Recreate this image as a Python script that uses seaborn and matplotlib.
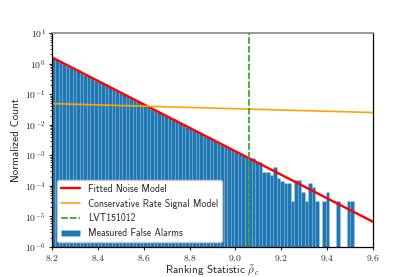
import matplotlib
matplotlib.use("Agg")
import matplotlib.pyplot as plt
import numpy as np
import pandas as pd
import seaborn as sns
from matplotlib.ticker import FuncFormatter, LogLocator, NullFormatter


# histogram of measured false alarms (normalized), fixed-width bins from BIN_START
BIN_START = 8.2
BIN_WIDTH = 0.0153
FALSE_ALARM_HEIGHTS = [
    1.48, 1.29, 1.13, 0.987, 0.862, 0.753, 0.658, 0.575, 0.502, 0.438,
    0.383, 0.334, 0.292, 0.255, 0.223, 0.195, 0.170, 0.149, 0.130, 0.113,
    0.0990, 0.0865, 0.0755, 0.0660, 0.0576, 0.0503, 0.0440, 0.0384, 0.0335, 0.0293,
    0.0256, 0.0224, 0.0195, 0.0171, 0.0149, 0.0130, 0.01137, 0.00993, 0.00867, 0.00757,
    0.00662, 0.00578, 0.00505, 0.00441, 0.00385, 0.00336, 0.00294, 0.00257, 0.00224, 0.00196,
    0.00171, 0.00149, 0.00131, 0.00114, 0.00100, 0.00087, 0.00080,
    8.0e-4, 5.9e-4, 5.9e-4, 2.8e-4, 2.8e-4, 2.2e-4, 4.0e-4, 1.85e-4, 1.5e-4,
    1.24e-4, 1.24e-4, 3.1e-5, 1.55e-4, 1.55e-4, 6.2e-5, 3.1e-5, 1.24e-4, 9.3e-5, 3.1e-5,
    0.0, 3.1e-5, 6.2e-5, 0.0, 0.0, 3.1e-5, 0.0, 0.0, 3.1e-5, 3.1e-5,
]

# fitted noise model and conservative signal model (straight lines on log axis)
NOISE_X = [8.2, 9.6]
NOISE_Y = [1.6, 6.7e-6]
SIGNAL_X = [8.2, 9.6]
SIGNAL_Y = [0.049, 0.025]

LVT_RANK = 9.06

X_LIM = (8.2, 9.6)
Y_LIM = (1e-6, 1e1)
X_TICKS = [8.2, 8.4, 8.6, 8.8, 9.0, 9.2, 9.4, 9.6]


def main() -> None:
    sns.set_style("ticks")
    plt.rcParams["font.family"] = ["cmss10", "DejaVu Sans"]
    plt.rcParams["mathtext.fontset"] = "cm"
    plt.rcParams["axes.unicode_minus"] = False
    plt.rcParams["font.size"] = 7

    fig, ax = plt.subplots(figsize=(4.15, 2.77), dpi=100)
    fig.subplots_adjust(left=0.125, right=0.899, bottom=0.108, top=0.881)

    n_bins = len(FALSE_ALARM_HEIGHTS)
    edges = BIN_START + BIN_WIDTH * np.arange(n_bins + 1)
    hist_df = pd.DataFrame({
        "rank": 0.5 * (edges[:-1] + edges[1:]),
        "height": FALSE_ALARM_HEIGHTS,
    })

    sns.histplot(
        data=hist_df,
        x="rank",
        weights="height",
        bins=n_bins,
        binrange=(edges[0], edges[-1]),
        ax=ax,
        color="#1f77b4",
        alpha=1.0,
        edgecolor=(1, 1, 1, 0.15),
        linewidth=0.4,
        label="Measured False Alarms",
    )
    ax.set_yscale("log")

    sns.lineplot(x=NOISE_X, y=NOISE_Y, ax=ax, color="red", linewidth=1.7, label="Fitted Noise Model")
    sns.lineplot(x=SIGNAL_X, y=SIGNAL_Y, ax=ax, color="orange", linewidth=1.2,
                 label="Conservative Rate Signal Model")
    ax.axvline(LVT_RANK, color="#2ca02c", linewidth=1.2, linestyle=(0, (4.0, 1.3)), label="LVT151012")

    ax.set_xlim(*X_LIM)
    ax.set_ylim(*Y_LIM)
    ax.set_xticks(X_TICKS)
    ax.xaxis.set_major_formatter(FuncFormatter(lambda v, p: f"${v:.1f}$"))
    ax.yaxis.set_major_locator(LogLocator(base=10, numticks=10))
    ax.yaxis.set_minor_locator(LogLocator(base=10, subs=np.arange(2, 10), numticks=100))
    ax.yaxis.set_minor_formatter(NullFormatter())
    ax.yaxis.set_major_formatter(
        FuncFormatter(lambda v, p: rf"$10^{{{int(round(np.log10(v)))}}}$")
    )
    ax.tick_params(axis="both", which="major", labelsize=7, length=2.5, width=0.8, pad=2)
    ax.tick_params(axis="y", which="minor", length=1.6, width=0.6)

    ax.set_xlabel(r"Ranking Statistic $\tilde{\rho}_c$", fontsize=8, labelpad=0)
    ax.set_ylabel("Normalized Count", fontsize=8, labelpad=3)

    for side in ["left", "bottom", "right"]:
        ax.spines[side].set_visible(True)
        ax.spines[side].set_color("black")
        ax.spines[side].set_linewidth(0.9)
    ax.spines["top"].set_visible(True)
    ax.spines["top"].set_color("#888888")
    ax.spines["top"].set_linewidth(1.2)

    handles, labels = ax.get_legend_handles_labels()
    order = [labels.index(n) for n in
             ["Fitted Noise Model", "Conservative Rate Signal Model", "LVT151012", "Measured False Alarms"]]
    ax.legend([handles[i] for i in order], [labels[i] for i in order],
              loc="lower left", fontsize=7, framealpha=1.0, fancybox=True)

    fig.savefig("out.png", dpi=100)
    plt.close(fig)


if __name__ == "__main__":
    main()
